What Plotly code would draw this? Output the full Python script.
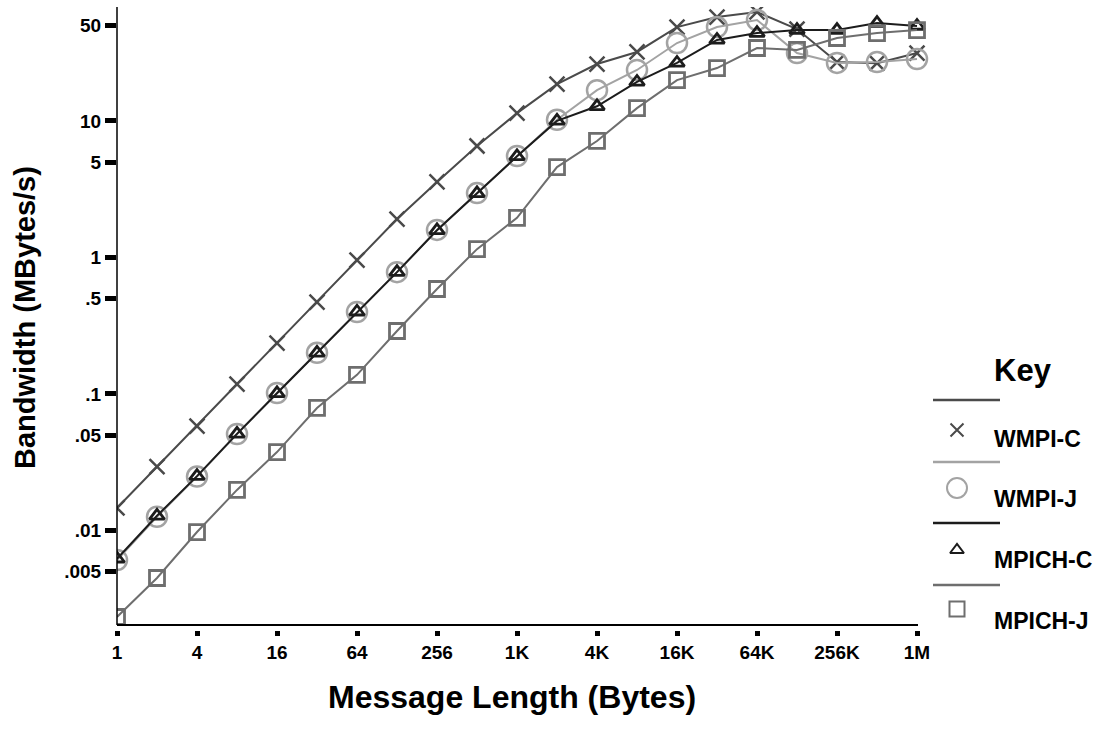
import math
import plotly.graph_objects as go

W, H = 1114, 736

# ---- data ----
msg_sizes = [2 ** k for k in range(21)]  # 1 byte .. 1M bytes
wmpi_c = [0.0146, 0.0293, 0.058, 0.118, 0.236, 0.471, 0.957, 1.91, 3.57, 6.55,
          11.4, 18.6, 26.1, 32.0, 48.7, 57.7, 62.8, 47.1, 27.0, 26.5, 31.4]
wmpi_j = [0.00607, 0.0126, 0.0248, 0.0508, 0.1016, 0.2, 0.398, 0.78, 1.59, 2.96,
          5.53, 10.2, 16.8, 23.6, 37.2, 48.7, 54.9, 31.4, 26.6, 27.0, 28.4]
mpich_c = [0.0062, 0.0128, 0.025, 0.051, 0.101, 0.2, 0.40, 0.78, 1.58, 2.95,
           5.5, 10.0, 12.8, 19.3, 26.6, 39.2, 44.0, 46.3, 46.3, 52.1, 49.6]
mpich_j = [0.00232, 0.00448, 0.00973, 0.0198, 0.0375, 0.0789, 0.138, 0.289, 0.587, 1.15,
           1.95, 4.59, 7.13, 12.4, 19.9, 24.4, 34.2, 33.1, 40.5, 44.0, 46.3]

series_names = ["WMPI-C", "WMPI-J", "MPICH-C", "MPICH-J"]
x_tickvals = [1, 4, 16, 64, 256, 1024, 4096, 16384, 65536, 262144, 1048576]
x_ticktext = ["1", "4", "16", "64", "256", "1K", "4K", "16K", "64K", "256K", "1M"]
y_tickvals = [0.005, 0.01, 0.05, 0.1, 0.5, 1, 5, 10, 50]
y_ticktext = [".005", ".01", ".05", ".1", ".5", "1", "5", "10", "50"]

# ---- styles ----
FONT = "Liberation Sans, Arial, sans-serif"
styles = [
    dict(color="#4a4a4a", symbol="x-thin-open", size=15, mlw=2.5),
    dict(color="#a3a3a3", symbol="circle-open", size=20, mlw=2.5),
    dict(color="#1c1c1c", symbol="triangle-up-open", size=13, mlw=2.8),
    dict(color="#6e6e6e", symbol="square-open", size=15, mlw=2.8),
]
series = [wmpi_c, wmpi_j, mpich_c, mpich_j]

# plot area in pixels
PL, PR, PT, PB = 117, 940, 7, 630
X_AX_END = 918
X_LINE_Y = 625


def px_x(p):
    return p / W


def px_y(p):
    return (H - p) / H


fig = go.Figure()
for name, vals, st in zip(series_names, series, styles):
    fig.add_trace(go.Scatter(
        x=msg_sizes, y=vals, name=name, mode="lines+markers",
        line=dict(color=st["color"], width=2),
        marker=dict(symbol=st["symbol"], size=st["size"], color=st["color"],
                    line=dict(color=st["color"], width=st["mlw"])),
        showlegend=False,
    ))

# ---- custom key (legend) ----
key_line_y = [400, 462, 523, 585]
key_marker_y = [430, 488, 550, 609]
key_text_y = [439, 499, 560, 621]
legend_sizes = [13, 20, 12, 15]
for name, st, my, lsz in zip(series_names, styles, key_marker_y, legend_sizes):
    fig.add_trace(go.Scatter(
        x=[957], y=[my], xaxis="x2", yaxis="y2", mode="markers",
        marker=dict(symbol=st["symbol"], size=lsz, color=st["color"],
                    line=dict(color=st["color"], width=2)),
        showlegend=False, hoverinfo="skip",
    ))

shapes = []
for ly, st in zip(key_line_y, styles):
    shapes.append(dict(type="line", xref="paper", yref="paper",
                       x0=px_x(933), x1=px_x(1000), y0=px_y(ly), y1=px_y(ly),
                       line=dict(color=st["color"], width=2.5)))
# axis lines
shapes.append(dict(type="line", xref="paper", yref="paper",
                   x0=px_x(PL), x1=px_x(X_AX_END), y0=px_y(X_LINE_Y), y1=px_y(X_LINE_Y),
                   line=dict(color="black", width=2)))
shapes.append(dict(type="line", xref="paper", yref="paper",
                   x0=px_x(PL), x1=px_x(PL), y0=px_y(X_LINE_Y), y1=px_y(PT),
                   line=dict(color="black", width=1.5)))

annotations = []
annotations.append(dict(text="<b>Key</b>", x=px_x(992), y=px_y(370), xref="paper", yref="paper",
                        xanchor="left", yanchor="middle", showarrow=False,
                        font=dict(family=FONT, size=31, color="black")))
for name, ty in zip(series_names, key_text_y):
    annotations.append(dict(text="<b>%s</b>" % name, x=px_x(992), y=px_y(ty),
                            xref="paper", yref="paper", xanchor="left", yanchor="middle",
                            showarrow=False, font=dict(family=FONT, size=23, color="black")))
annotations.append(dict(text="<b>Message Length (Bytes)</b>", x=px_x(512), y=px_y(697),
                        xref="paper", yref="paper", xanchor="center", yanchor="middle",
                        showarrow=False, font=dict(family=FONT, size=32, color="black")))
annotations.append(dict(text="<b>Bandwidth (MBytes/s)</b>", x=px_x(25), y=px_y(318),
                        xref="paper", yref="paper", xanchor="center", yanchor="middle",
                        textangle=-90, showarrow=False,
                        font=dict(family=FONT, size=29, color="black")))

# x range so that 1M sits at x=917 px
x_decades = math.log10(2 ** 20)
x_range_max = x_decades * (PR - PL) / (917 - PL)
y_range = [1.699 - (PB - 25.5) / 136.5, 1.699 + (25.5 - PT) / 136.5]

fig.update_layout(
    width=W, height=H,
    margin=dict(l=0, r=0, t=0, b=0),
    paper_bgcolor="white", plot_bgcolor="rgba(0,0,0,0)",
    font=dict(family=FONT, color="black"),
    shapes=shapes, annotations=annotations,
    xaxis=dict(type="log", domain=[px_x(PL), px_x(PR)], range=[0, x_range_max],
               tickvals=x_tickvals, ticktext=x_ticktext, showgrid=False, zeroline=False,
               showline=False, ticks="outside", ticklen=5, tickwidth=5, tickcolor="black",
               ticklabelstandoff=0, automargin=False,
               tickfont=dict(family=FONT, size=19, color="black", weight="bold")),
    yaxis=dict(type="log", domain=[px_y(PB), px_y(PT)], range=y_range,
               tickvals=y_tickvals, ticktext=y_ticktext, showgrid=False, zeroline=False,
               showline=False, ticks="outside", ticklen=11, tickwidth=5, tickcolor="black",
               automargin=False,
               tickfont=dict(family=FONT, size=19, color="black", weight="bold")),
    xaxis2=dict(domain=[0, 1], range=[0, W], anchor="y2", visible=False, fixedrange=True),
    yaxis2=dict(domain=[0, 1], range=[H, 0], anchor="x2", visible=False, fixedrange=True),
)

fig.write_html("out.html", config={"displayModeBar": False},
               post_script="document.body.style.margin='0';document.body.style.overflow='hidden';")
